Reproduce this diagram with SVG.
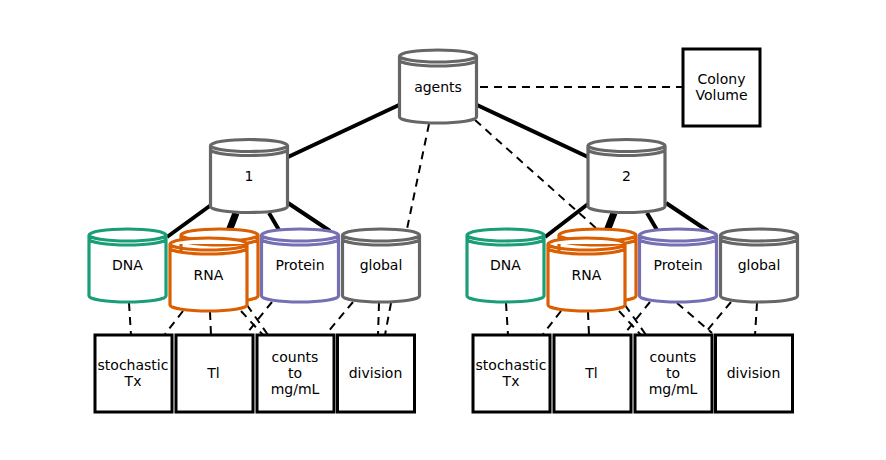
<svg xmlns="http://www.w3.org/2000/svg" width="886" height="460" viewBox="0 0 886 460">
<style>
text{font-family:"DejaVu Sans",sans-serif;font-size:14px;fill:#000;text-anchor:middle}
.cyl{fill:#fff;stroke-width:3.200}
.gray{stroke:#666}.green{stroke:#1b9e77}.orange{stroke:#d95f02}.purple{stroke:#7570b3}
.box{fill:#fff;stroke:#000;stroke-width:3}
.solid{stroke:#000;stroke-width:4;fill:none}
.wide{stroke:#000;stroke-width:7;fill:none}
.dash{stroke:#000;stroke-width:2;stroke-dasharray:8 6;fill:none}
</style>
<defs>
<path id="c" d="M0 6C0 2.700 17.200 0 38.500 0S77 2.700 77 6V67C77 70.300 59.800 73 38.500 73S0 70.300 0 67ZM0 6C0 9.300 17.200 12 38.500 12S77 9.300 77 6M0 10C0 13.300 17.200 16 38.500 16S77 13.300 77 10"/>
<rect id="b" width="77" height="77"/>
</defs>
<g id="connectors">
<path class="solid" d="M399 105L288 157M477 105L588 157M211 205L167 237M269 213L279 230M288 203L330 231M588 204L545 237M647 213L657 230M666 203L708 231"/>
<path class="wide" d="M236 213L229 231M614 213L607 231"/>
<path class="dash" d="M480 87H683M429 124L407 229M475 120L597 229M129 303L131 335M183 311L165 334M210 312L211 335M241 311L263 335M247 305L268 335M272 302L247 333M353 302L327 333M379 303L378 335M391 303L385 335M506 303L508 335M561 311L543 334M588 312L589 335M619 311L641 335M625 305L646 335M650 302L625 333M677 303L712 333M731 302L705 333M757 303L755 335"/>
</g>
<g id="agents"><use href="#c" class="cyl gray" x="399.500" y="50"/><text x="438" y="92">agents</text></g>
<g id="colony"><use href="#b" class="box" x="683" y="49"/><text x="721.500" y="84">Colony</text><text x="721.500" y="100">Volume</text></g>
<g id="n1"><use href="#c" class="cyl gray" x="210.500" y="139.500"/><text x="249" y="181">1</text></g>
<g id="n2"><use href="#c" class="cyl gray" x="588" y="139.500"/><text x="626.500" y="181">2</text></g>
<g id="dna1"><use href="#c" class="cyl green" x="89" y="229"/><text x="127.500" y="270">DNA</text></g>
<g id="rna1"><use href="#c" class="cyl orange" x="181" y="229"/><use href="#c" class="cyl orange" x="170" y="238"/><text x="208.500" y="280">RNA</text></g>
<g id="protein1"><use href="#c" class="cyl purple" x="261.500" y="229"/><text x="300" y="270">Protein</text></g>
<g id="global1"><use href="#c" class="cyl gray" x="342.500" y="229"/><text x="381" y="270">global</text></g>
<g id="dna2"><use href="#c" class="cyl green" x="467" y="229"/><text x="505.500" y="270">DNA</text></g>
<g id="rna2"><use href="#c" class="cyl orange" x="559" y="229"/><use href="#c" class="cyl orange" x="548" y="238"/><text x="586.500" y="280">RNA</text></g>
<g id="protein2"><use href="#c" class="cyl purple" x="639.500" y="229"/><text x="678" y="270">Protein</text></g>
<g id="global2"><use href="#c" class="cyl gray" x="720.500" y="229"/><text x="759" y="270">global</text></g>
<g id="stoch1"><use href="#b" class="box" x="95" y="335"/><text x="133" y="370">stochastic</text><text x="133" y="386">Tx</text></g>
<g id="tl1"><use href="#b" class="box" x="176" y="335"/><text x="213.500" y="378">Tl</text></g>
<g id="counts1"><use href="#b" class="box" x="257" y="335"/><text x="295" y="362">counts</text><text x="295" y="378">to</text><text x="295" y="394">mg/mL</text></g>
<g id="div1"><use href="#b" class="box" x="337.500" y="335"/><text x="375.500" y="378">division</text></g>
<g id="stoch2"><use href="#b" class="box" x="473" y="335"/><text x="511" y="370">stochastic</text><text x="511" y="386">Tx</text></g>
<g id="tl2"><use href="#b" class="box" x="554" y="335"/><text x="591.500" y="378">Tl</text></g>
<g id="counts2"><use href="#b" class="box" x="635" y="335"/><text x="673" y="362">counts</text><text x="673" y="378">to</text><text x="673" y="394">mg/mL</text></g>
<g id="div2"><use href="#b" class="box" x="715.500" y="335"/><text x="753.500" y="378">division</text></g>
</svg>
